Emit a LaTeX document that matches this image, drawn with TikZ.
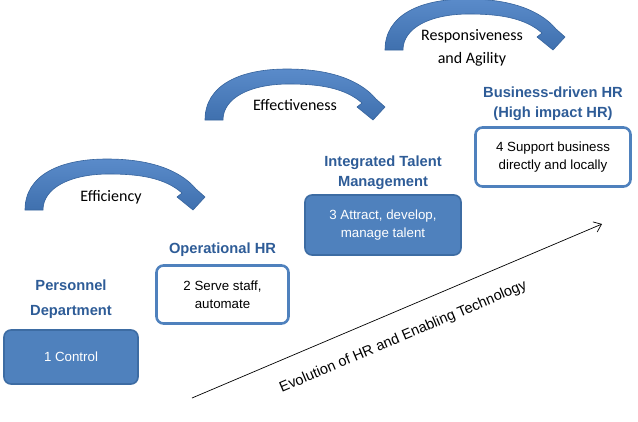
\documentclass[tikz,border=0pt]{standalone}
\usepackage{fontspec}
\setmainfont{Liberation Sans}
\newfontfamily\calibrifont{Carlito}
\usetikzlibrary{arrows.meta,positioning}
\definecolor{hrblue}{HTML}{4F81BD}
\definecolor{hredge}{HTML}{3D6CA3}
\definecolor{headblue}{HTML}{2E5C97}
\definecolor{arctop}{HTML}{5A8BCA}
\definecolor{arcbottom}{HTML}{3F70AE}
\definecolor{arcedge}{HTML}{36639C}
\tikzset{
  stage/.style={rounded corners=7pt,align=center,inner sep=4pt,font=\fontsize{13.3}{18}\selectfont},
  fullstage/.style={stage,draw=hredge,line width=1.6pt,fill=hrblue,text=white},
  openstage/.style={stage,draw=hrblue,line width=2.6pt,fill=white,text=black},
  stagetitle/.style={align=center,inner sep=1pt,text=headblue,font=\bfseries\fontsize{14.7}{20}\selectfont},
  gainlabel/.style={align=center,inner sep=1pt,font=\calibrifont\fontsize{16}{23}\selectfont},
  trend/.style={-{Straight Barb[length=7pt,width=11pt]},line width=0.7pt},
  trendlabel/.style={sloped,below=16pt,font=\fontsize{14.5}{17}\selectfont},
  gainarrow/.pic={
    \shade[top color=arctop,bottom color=arcbottom,draw=arcedge,line width=0.6pt]
      (0,0) .. controls (0,-35) and (35,-51) .. (82,-51)
      .. controls (125,-51) and (155,-40) .. (171,-21)
      -- (180,-13) -- (168,0) -- (152,-13) -- (157,-17)
      .. controls (140,-32) and (115,-36) .. (84,-36)
      .. controls (45,-36) and (18,-22) .. (18,0) -- cycle;
  }
}
\begin{document}
\begin{tikzpicture}[x=1pt,y=-1pt]
  \useasboundingbox (0,0) rectangle (638,421);
  \node[fullstage,minimum width=134pt,minimum height=54pt] (control) at (71,357) {1 Control};
  \node[openstage,minimum width=132pt,minimum height=58pt] (serve) at (222.5,294.5) {2 Serve staff,\\automate};
  \node[fullstage,minimum width=156pt,minimum height=60pt] (talent) at (383,225) {3 Attract, develop,\\manage talent};
  \node[openstage,minimum width=155pt,minimum height=59pt] (support) at (553,157) {4 Support business\\directly and locally};
  \node[stagetitle,above=9pt of control] (personnel) {Personnel\\[5pt]Department};
  \node[stagetitle,above=6pt of serve] (operational) {Operational HR};
  \node[stagetitle,above=3pt of talent] (integrated) {Integrated Talent\\Management};
  \node[stagetitle,above=4pt of support] (business) {Business-driven HR\\(High impact HR)};
  \pic (efficiencyarc) at (25,210) {gainarrow};
  \pic (effectivenessarc) at (205,120) {gainarrow};
  \pic (agilityarc) at (385,50) {gainarrow};
  \node[gainlabel] (efficiency) at (111,197) {Efficiency};
  \node[gainlabel] (effectiveness) at (295,105) {Effectiveness};
  \node[gainlabel] (agility) at (472,48) {Responsiveness\\and Agility};
  \coordinate (trendfrom) at (192,398);
  \coordinate (trendto) at (602,224);
  \draw[trend] (trendfrom) -- node[trendlabel,pos=0.49] (trendtext) {Evolution of HR and Enabling Technology} (trendto);
\end{tikzpicture}
\end{document}
